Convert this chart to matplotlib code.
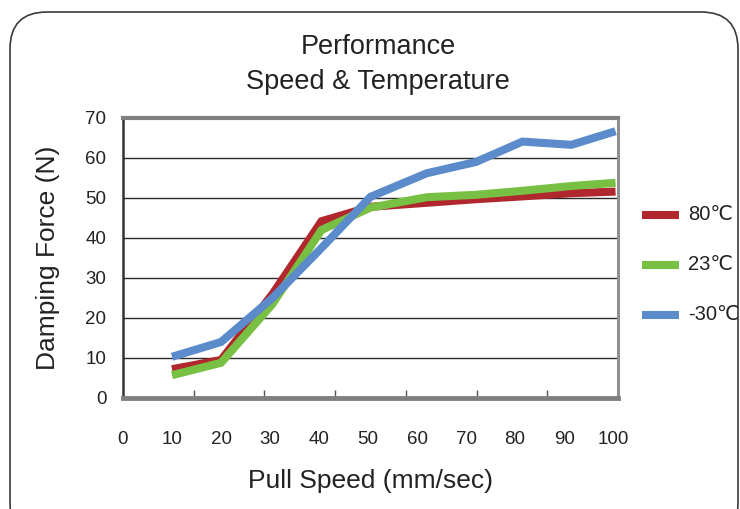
import numpy as np
import matplotlib
matplotlib.use("Agg")
import matplotlib.pyplot as plt
from matplotlib.patches import FancyBboxPatch
from matplotlib.lines import Line2D

plt.rcParams['font.family'] = ['Liberation Sans', 'DejaVu Sans']

# Data
speed = [10, 20, 30.5, 40.5, 50.5, 62, 72, 81.5, 91.5, 100.5]
force_80 = [7.2, 9.5, 26, 44.2, 47.8, 48.8, 49.7, 50.4, 51.2, 51.6]
force_23 = [5.7, 8.8, 23.5, 42, 47.6, 50.2, 50.8, 51.8, 53, 53.8]
force_m30 = [10.3, 14, 25, 37.5, 50.3, 56.2, 59, 64.1, 63.3, 66.7]
labels = ['80\u2103', '23\u2103', '-30\u2103']
colors = ['#B0282E', '#78C043', '#5B8BCB']
x_ticks = list(range(0, 101, 10))
y_ticks = list(range(0, 71, 10))

W, H = 740, 509
fig = plt.figure(figsize=(W / 100, H / 100), dpi=100)

# rounded frame around the whole chart
frame = FancyBboxPatch((10 / W, 1 - 540 / H), 728 / W, 528 / H,
                       boxstyle="round,pad=0,rounding_size=0.05",
                       transform=fig.transFigure, fill=False,
                       edgecolor='#3a3a3a', linewidth=1.2, mutation_aspect=W / H)
fig.patches.append(frame)

ax = fig.add_axes([123 / W, 1 - 398 / H, 495 / W, 280 / H])
xmax = 101
ax.set_xlim(0, xmax)
ax.set_ylim(0, 70)

# gridlines
for y in y_ticks[1:-1]:
    ax.axhline(y, color='#2a2a2a', linewidth=1.0, zorder=1)

for ys, c in zip([force_80, force_23, force_m30], colors):
    ax.plot(speed, ys, color=c, linewidth=5.8, solid_joinstyle='miter',
            solid_capstyle='butt', zorder=3, clip_on=False)

# spines
ax.spines['top'].set_color('#808080')
ax.spines['top'].set_linewidth(3)
ax.spines['bottom'].set_color('#808080')
ax.spines['bottom'].set_linewidth(3.5)
ax.spines['left'].set_color('#333333')
ax.spines['left'].set_linewidth(1.8)
ax.spines['right'].set_color('#909090')
ax.spines['right'].set_linewidth(2.2)

ax.set_yticks(y_ticks)
ax.tick_params(axis='y', length=0, pad=12, labelsize=13.5, labelcolor='#222222')
ax.set_xticks(x_ticks)
ax.set_xticklabels([str(v) for v in x_ticks])
ax.tick_params(axis='x', which='major', length=0, pad=24, labelsize=13.5,
               labelcolor='#222222')
ax.set_xticks([xmax * k / 7 for k in range(1, 7)], minor=True)
ax.tick_params(axis='x', which='minor', direction='in', length=6, width=1,
               color='#555555')

ax.set_ylabel('Damping Force (N)', fontsize=19, labelpad=18, color='#222222')
ax.set_xlabel('Pull Speed (mm/sec)', fontsize=19, labelpad=15, color='#222222')

fig.text(378 / W, 1 - 47 / H, 'Performance', ha='center', va='center',
         fontsize=19.5, color='#222222')
fig.text(378 / W, 1 - 82 / H, 'Speed & Temperature', ha='center', va='center',
         fontsize=19.5, color='#222222')

# legend
for i, (lab, c) in enumerate(zip(labels, colors)):
    yy = 1 - (215 + 50 * i) / H
    fig.add_artist(Line2D([642 / W, 679 / W], [yy, yy], color=c, linewidth=5.8,
                          transform=fig.transFigure, solid_capstyle='butt'))
    fig.text(688 / W, yy, lab, ha='left', va='center', fontsize=14.5,
             color='#222222')

fig.savefig('out.png', dpi=100)
